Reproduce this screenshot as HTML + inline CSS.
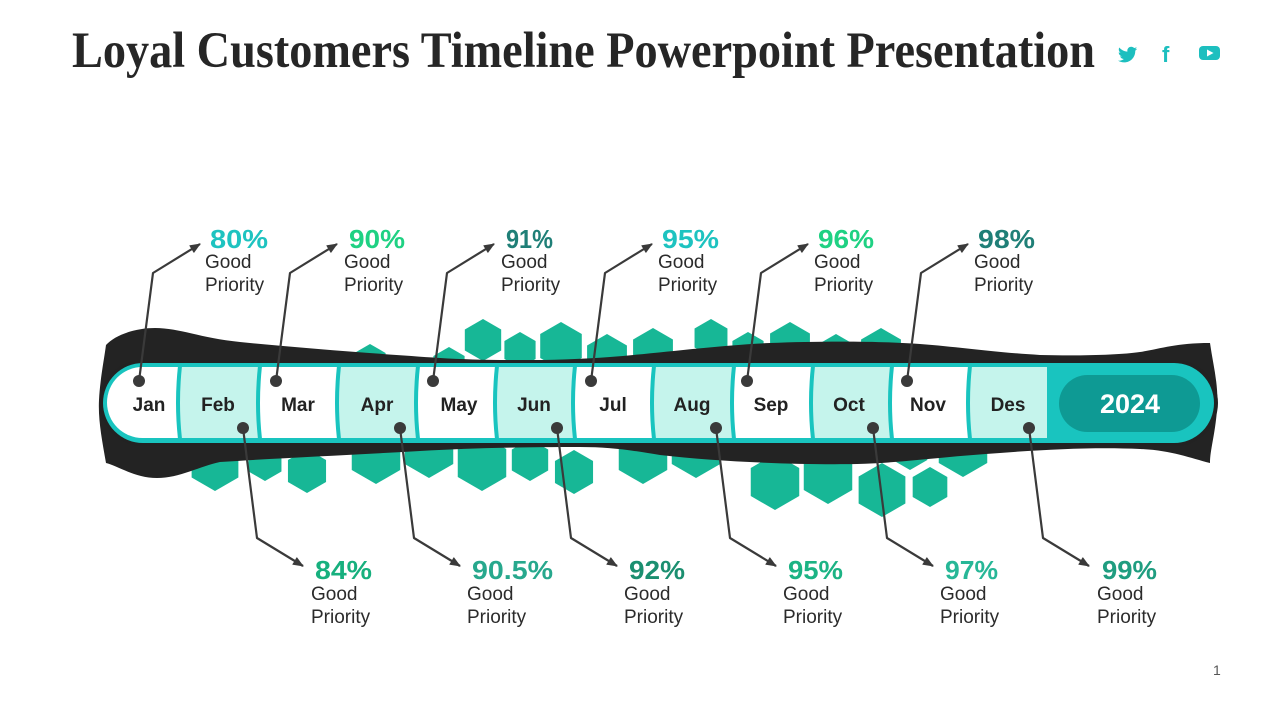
<!DOCTYPE html>
<html><head><meta charset="utf-8"><style>
html,body{margin:0;padding:0;background:#fff;}
svg{display:block;}
</style></head><body>
<svg width="1280" height="720" viewBox="0 0 1280 720" xmlns="http://www.w3.org/2000/svg">
<defs>
<polygon id="hx" points="0,-1 0.866,-0.5 0.866,0.5 0,1 -0.866,0.5 -0.866,-0.5"/>
<marker id="ar" markerUnits="userSpaceOnUse" markerWidth="11" markerHeight="10" refX="10" refY="5" orient="auto">
<path d="M0,0.5 L11,5 L0,9.5 z" fill="#3a3a3a"/>
</marker>
<clipPath id="inner"><rect x="107" y="367" width="1102" height="71" rx="35.5"/></clipPath>
</defs>
<rect width="1280" height="720" fill="#fff"/>

<!-- Title -->
<text x="72" y="67" font-family="Liberation Serif, serif" font-weight="bold" font-size="51" fill="#262626" textLength="1023" lengthAdjust="spacingAndGlyphs">Loyal Customers Timeline Powerpoint Presentation</text>

<!-- social icons -->
<g fill="#1dbfbf">
<path transform="translate(1118,45) scale(0.8)" d="M23.954 4.569c-.885.389-1.83.654-2.825.775 1.014-.611 1.794-1.574 2.163-2.723-.951.555-2.005.959-3.127 1.184-.896-.959-2.173-1.559-3.591-1.559-2.717 0-4.92 2.203-4.92 4.917 0 .39.045.765.127 1.124C7.691 8.094 4.066 6.13 1.64 3.161c-.427.722-.666 1.561-.666 2.475 0 1.71.87 3.213 2.188 4.096-.807-.026-1.566-.248-2.228-.616v.061c0 2.385 1.693 4.374 3.946 4.827-.413.111-.849.171-1.296.171-.314 0-.615-.03-.916-.086.631 1.953 2.445 3.377 4.604 3.417-1.68 1.319-3.809 2.105-6.102 2.105-.39 0-.779-.023-1.17-.067 2.189 1.394 4.768 2.209 7.557 2.209 9.054 0 13.999-7.496 13.999-13.986 0-.209 0-.42-.015-.63.961-.689 1.8-1.56 2.46-2.548l-.047-.02z"/>
<text x="1162" y="62" font-family="Liberation Sans, sans-serif" font-weight="bold" font-size="22">f</text>
<rect x="1199" y="46" width="21" height="14" rx="4"/>
<path d="M1207,49.5 L1213.5,53 L1207,56.5 z" fill="#fff"/>
</g>

<!-- hexagons -->
<g fill="#17b796">
<use href="#hx" transform="translate(483,340) scale(21)"/>
<use href="#hx" transform="translate(520,350) scale(18)"/>
<use href="#hx" transform="translate(561,346) scale(24)"/>
<use href="#hx" transform="translate(607,357) scale(23)"/>
<use href="#hx" transform="translate(653,351) scale(23)"/>
<use href="#hx" transform="translate(711,338) scale(19)"/>
<use href="#hx" transform="translate(748,350) scale(18)"/>
<use href="#hx" transform="translate(790,345) scale(23)"/>
<use href="#hx" transform="translate(836,353) scale(19)"/>
<use href="#hx" transform="translate(881,351) scale(23)"/>
<use href="#hx" transform="translate(370,362) scale(18)"/>
<use href="#hx" transform="translate(449,365) scale(18)"/>
<use href="#hx" transform="translate(407,368) scale(12)"/>
<use href="#hx" transform="translate(492,370) scale(10)"/>

<use href="#hx" transform="translate(215,464) scale(27)"/>
<use href="#hx" transform="translate(265,462) scale(19)"/>
<use href="#hx" transform="translate(307,471) scale(22)"/>
<use href="#hx" transform="translate(376,456) scale(28)"/>
<use href="#hx" transform="translate(429,450) scale(28)"/>
<use href="#hx" transform="translate(482,463) scale(28)"/>
<use href="#hx" transform="translate(530,460) scale(21)"/>
<use href="#hx" transform="translate(574,472) scale(22)"/>
<use href="#hx" transform="translate(643,456) scale(28)"/>
<use href="#hx" transform="translate(696,450) scale(28)"/>
<use href="#hx" transform="translate(775,482) scale(28)"/>
<use href="#hx" transform="translate(828,476) scale(28)"/>
<use href="#hx" transform="translate(910,450) scale(20)"/>
<use href="#hx" transform="translate(882,490) scale(27)"/>
<use href="#hx" transform="translate(930,487) scale(20)"/>
<use href="#hx" transform="translate(963,449) scale(28)"/>
</g>

<!-- black band -->
<path fill="#232323" d="M106,345 C115,335 135,328 155,328 C180,328 200,338 240,342 C300,348 380,354 440,358 C490,361 560,361 610,357 C660,353 720,345 770,343 C820,341 880,341 920,344 C960,347 990,352 1040,355 C1080,356 1120,355 1140,352 C1160,349 1175,343 1210,343 C1213,365 1219,385 1217,410 C1215,435 1210,450 1210,463 C1190,458 1170,450 1140,449 C1100,447 1050,449 1000,453 C950,456 900,463 857,464 C800,465 720,462 660,455 C630,450 610,447 580,447 C520,447 470,448 420,451 C350,455 280,458 220,462 C200,466 180,478 157,478 C135,478 118,466 106,463 C102,440 98,420 99,400 C100,380 104,360 106,345 Z"/>

<!-- capsule -->
<rect x="100" y="360" width="1118" height="86" rx="43" fill="#222"/>
<rect x="103" y="363" width="1111" height="80" rx="40" fill="#19c4bf"/>
<g clip-path="url(#inner)">
<rect x="107" y="367" width="71" height="71" fill="#fff"/>
<rect x="178" y="367" width="80" height="71" fill="#c5f4ec"/>
<rect x="258" y="367" width="79" height="71" fill="#fff"/>
<rect x="337" y="367" width="79" height="71" fill="#c5f4ec"/>
<rect x="416" y="367" width="79" height="71" fill="#fff"/>
<rect x="495" y="367" width="78" height="71" fill="#c5f4ec"/>
<rect x="573" y="367" width="79" height="71" fill="#fff"/>
<rect x="652" y="367" width="80" height="71" fill="#c5f4ec"/>
<rect x="732" y="367" width="79" height="71" fill="#fff"/>
<rect x="811" y="367" width="79" height="71" fill="#c5f4ec"/>
<rect x="890" y="367" width="78" height="71" fill="#fff"/>
<rect x="968" y="367" width="79" height="71" fill="#c5f4ec"/>
<g stroke="#19c4bf" stroke-width="4" fill="none">
<path d="M180,366 Q176,403 180,439"/>
<path d="M260,366 Q256,403 260,439"/>
<path d="M339,366 Q335,403 339,439"/>
<path d="M418,366 Q414,403 418,439"/>
<path d="M497,366 Q493,403 497,439"/>
<path d="M575,366 Q571,403 575,439"/>
<path d="M654,366 Q650,403 654,439"/>
<path d="M734,366 Q730,403 734,439"/>
<path d="M813,366 Q809,403 813,439"/>
<path d="M892,366 Q888,403 892,439"/>
<path d="M970,366 Q966,403 970,439"/>
</g>
</g>
<rect x="1059" y="375" width="141" height="57" rx="28.5" fill="#0e9a94"/>
<text x="1130" y="413" text-anchor="middle" font-family="Liberation Sans, sans-serif" font-weight="bold" font-size="27" fill="#fff">2024</text>

<!-- month labels -->
<g font-family="Liberation Sans, sans-serif" font-weight="bold" font-size="19" fill="#222" text-anchor="middle">
<text x="149" y="411">Jan</text>
<text x="218" y="411">Feb</text>
<text x="298" y="411">Mar</text>
<text x="377" y="411">Apr</text>
<text x="459" y="411">May</text>
<text x="534" y="411">Jun</text>
<text x="613" y="411">Jul</text>
<text x="692" y="411">Aug</text>
<text x="771" y="411">Sep</text>
<text x="849" y="411">Oct</text>
<text x="928" y="411">Nov</text>
<text x="1008" y="411">Des</text>
</g>

<!-- connectors -->
<g stroke="#3a3a3a" stroke-width="2.2" fill="none" marker-end="url(#ar)" stroke-linejoin="round">
<path d="M139,381 L153,273 L200,244"/>
<path d="M276,381 L290,273 L337,244"/>
<path d="M433,381 L447,273 L494,244"/>
<path d="M591,381 L605,273 L652,244"/>
<path d="M747,381 L761,273 L808,244"/>
<path d="M907,381 L921,273 L968,244"/>
<path d="M243,428 L257,538 L303,566"/>
<path d="M400,428 L414,538 L460,566"/>
<path d="M557,428 L571,538 L617,566"/>
<path d="M716,428 L730,538 L776,566"/>
<path d="M873,428 L887,538 L933,566"/>
<path d="M1029,428 L1043,538 L1089,566"/>
</g>
<g fill="#3a3a3a">
<circle cx="139" cy="381" r="6"/><circle cx="276" cy="381" r="6"/><circle cx="433" cy="381" r="6"/>
<circle cx="591" cy="381" r="6"/><circle cx="747" cy="381" r="6"/><circle cx="907" cy="381" r="6"/>
<circle cx="243" cy="428" r="6"/><circle cx="400" cy="428" r="6"/><circle cx="557" cy="428" r="6"/>
<circle cx="716" cy="428" r="6"/><circle cx="873" cy="428" r="6"/><circle cx="1029" cy="428" r="6"/>
</g>

<!-- percent labels -->
<g font-family="Liberation Sans, sans-serif" font-weight="bold" font-size="26">
<text x="210" y="248" fill="#1ec3c0" textLength="58" lengthAdjust="spacingAndGlyphs">80%</text>
<text x="349" y="248" fill="#1fd183" textLength="56" lengthAdjust="spacingAndGlyphs">90%</text>
<text x="506" y="248" fill="#1f7f77" textLength="47" lengthAdjust="spacingAndGlyphs">91%</text>
<text x="662" y="248" fill="#1ec3c0" textLength="57" lengthAdjust="spacingAndGlyphs">95%</text>
<text x="818" y="248" fill="#1fd183" textLength="56" lengthAdjust="spacingAndGlyphs">96%</text>
<text x="978" y="248" fill="#1f7f77" textLength="57" lengthAdjust="spacingAndGlyphs">98%</text>
<text x="315" y="579" fill="#17b07e" textLength="57" lengthAdjust="spacingAndGlyphs">84%</text>
<text x="472" y="579" fill="#27a88d" textLength="81" lengthAdjust="spacingAndGlyphs">90.5%</text>
<text x="629" y="579" fill="#1b8f70" textLength="56" lengthAdjust="spacingAndGlyphs">92%</text>
<text x="788" y="579" fill="#1cb384" textLength="55" lengthAdjust="spacingAndGlyphs">95%</text>
<text x="945" y="579" fill="#27b797" textLength="53" lengthAdjust="spacingAndGlyphs">97%</text>
<text x="1102" y="579" fill="#1f9d80" textLength="55" lengthAdjust="spacingAndGlyphs">99%</text>
</g>

<!-- Good Priority -->
<g font-family="Liberation Sans, sans-serif" font-size="19" fill="#2b2b2b">
<text x="205" y="268">Good</text><text x="205" y="291">Priority</text>
<text x="344" y="268">Good</text><text x="344" y="291">Priority</text>
<text x="501" y="268">Good</text><text x="501" y="291">Priority</text>
<text x="658" y="268">Good</text><text x="658" y="291">Priority</text>
<text x="814" y="268">Good</text><text x="814" y="291">Priority</text>
<text x="974" y="268">Good</text><text x="974" y="291">Priority</text>
<text x="311" y="600">Good</text><text x="311" y="623">Priority</text>
<text x="467" y="600">Good</text><text x="467" y="623">Priority</text>
<text x="624" y="600">Good</text><text x="624" y="623">Priority</text>
<text x="783" y="600">Good</text><text x="783" y="623">Priority</text>
<text x="940" y="600">Good</text><text x="940" y="623">Priority</text>
<text x="1097" y="600">Good</text><text x="1097" y="623">Priority</text>
</g>

<text x="1213" y="675" font-family="Liberation Sans, sans-serif" font-size="14" fill="#555">1</text>
</svg>
</body></html>
